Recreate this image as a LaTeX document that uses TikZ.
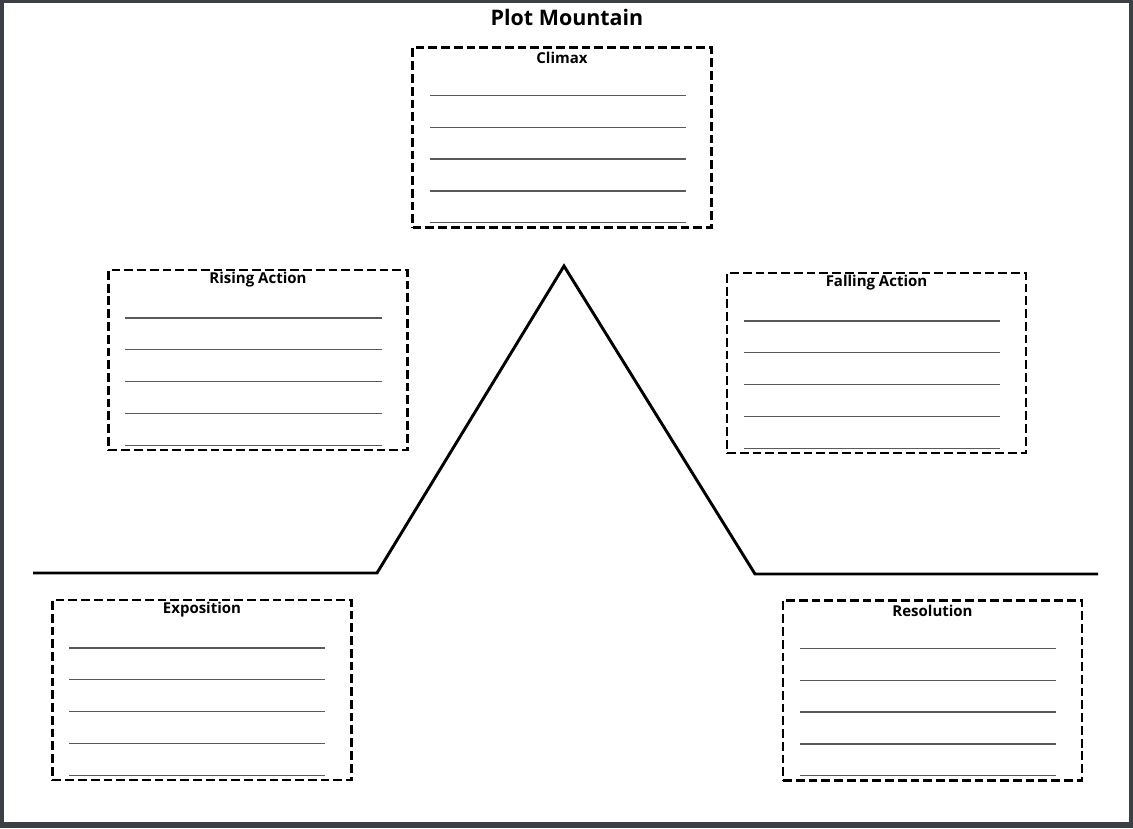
\documentclass[tikz,border=0pt]{standalone}
\usepackage{fontspec}
\setmainfont{Open Sans}
\usetikzlibrary{calc,positioning}

\definecolor{framegray}{HTML}{3C3F44}
\definecolor{rulegray}{HTML}{5A5A5A}

\begin{document}
\begin{tikzpicture}[
    x=0.03cm,
    y=-0.03cm,
    boite/.style={
        draw,
        line width=2.5pt,
        dash pattern=on 7.5pt off 3.4pt,
        minimum width=8.97cm,
        minimum height=5.4cm,
        inner sep=0pt,
        outer sep=0pt
    },
    titre/.style={
        font=\bfseries\fontsize{12.8}{14}\selectfont,
        inner sep=0pt
    },
    regle/.style={
        draw=rulegray,
        line width=1.1pt
    },
    montagne/.style={
        line width=2.5pt,
        line join=miter
    }
]

% Frame
\fill[framegray] (0,0) rectangle (1133,828);
\fill[white] (4,3) rectangle (1129,822);

% Heading
\node[font=\bfseries\fontsize{18.3}{20}\selectfont, inner sep=0pt] (heading) at (567,17) {Plot Mountain};

% Boxes
\node[boite] (climax) at (562,137.5) {};
\node[boite] (rising) at (258,360) {};
\node[boite] (falling) at (876.5,363) {};
\node[boite] (expo) at (202,690) {};
\node[boite] (resol) at (932.5,690.5) {};

% Box titles
\node[titre] (tclimax) at ($(climax.north)+(0,10)$) {Climax};
\node[titre] (trising) at ($(rising.north)+(0,10)$) {Rising Action};
\node[titre] (tfalling) at ($(falling.north)+(0,10)$) {Falling Action};
\node[titre] (texpo) at ($(expo.north)+(0,10)$) {Exposition};
\node[titre] (tresol) at ($(resol.north)+(0,10)$) {Resolution};

% Writing lines
\foreach \b in {climax,rising,falling,expo,resol}
  \foreach \k in {0,...,4}
    \draw[regle] ($(\b.north west)+(17,48+31.8*\k)$) -- ++(256,0);

% Mountain
\coordinate (debut) at (33,573);
\coordinate (piedg) at (377,573);
\coordinate (sommet) at (564,266);
\coordinate (piedd) at (755,574);
\coordinate (fin) at (1098,574);
\draw[montagne] (debut) -- (piedg) -- (sommet) -- (piedd) -- (fin);

\end{tikzpicture}
\end{document}
